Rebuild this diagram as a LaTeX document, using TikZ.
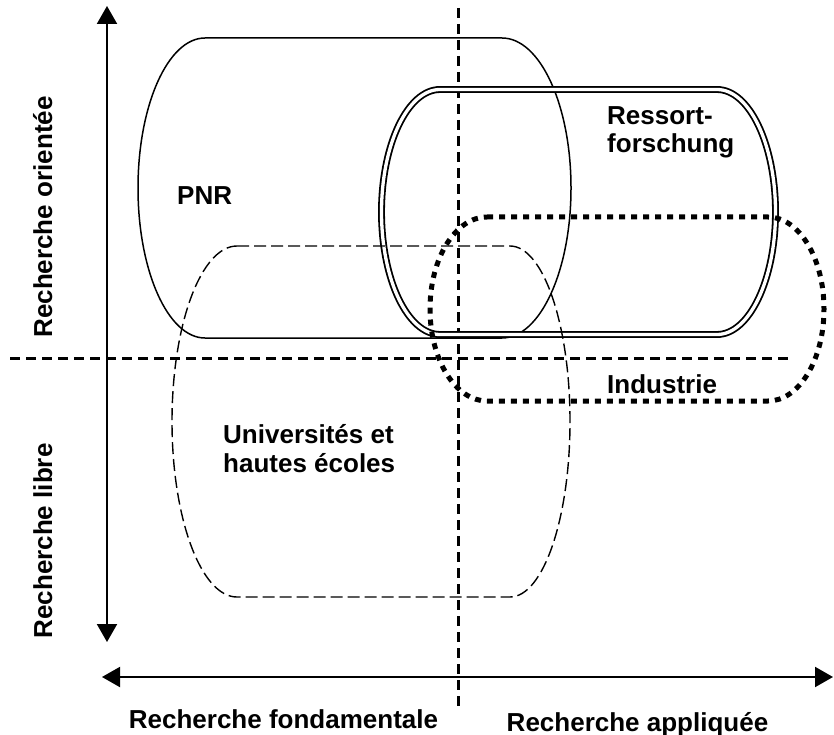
\documentclass[tikz,border=0pt]{standalone}
\usepackage{fontspec}
\setmainfont{Liberation Sans}
\usetikzlibrary{arrows.meta}
\begin{document}
\begin{tikzpicture}[x=1pt,y=1pt,
  lbl/.style={inner sep=0pt,font=\fontsize{26}{29}\selectfont\bfseries},
  axisarrow/.style={line width=2pt,{Triangle[length=18pt,width=20pt]}-{Triangle[length=18pt,width=20pt]}},
  axisdash/.style={line width=3pt,dash pattern=on 10pt off 6pt},
  pnrline/.style={line width=1.5pt},
  resline/.style={line width=1.8pt,double,double distance=3.3pt},
  unidash/.style={line width=1.4pt,dash pattern=on 12pt off 5pt},
  inddot/.style={line width=5pt,dash pattern=on 6pt off 6pt}]
\useasboundingbox (0,0) rectangle (834,-735);
% axes
\coordinate (vtop) at (107,-6);
\coordinate (vbot) at (107,-642);
\coordinate (hleft) at (102,-677);
\coordinate (hright) at (833,-677);
\draw[axisarrow] (vtop) -- (vbot);
\draw[axisarrow] (hleft) -- (hright);
\coordinate (dhl) at (10,-358);
\coordinate (dhr) at (790,-358);
\coordinate (dvt) at (458,-8);
\coordinate (dvb) at (458,-710);
\draw[axisdash] (dhl) -- (dhr);
\draw[axisdash] (dvt) -- (dvb);
% PNR
\draw[pnrline] (205,-38) -- (502,-38)
  arc[start angle=90,end angle=-90,x radius=69,y radius=150] -- (205,-338)
  arc[start angle=270,end angle=90,x radius=67,y radius=150] -- cycle;
% Ressortforschung
\draw[resline] (440,-89.5) -- (717,-89.5)
  arc[start angle=90,end angle=-90,x radius=58.5,y radius=122.5] -- (440,-334.5)
  arc[start angle=270,end angle=90,x radius=58.5,y radius=122.5] -- cycle;
% Universites
\draw[unidash] (237,-246) -- (510,-246)
  arc[start angle=90,end angle=-90,x radius=60,y radius=175.5] -- (237,-597)
  arc[start angle=270,end angle=90,x radius=65,y radius=175.5] -- cycle;
% Industrie
\draw[inddot] (487,-217) -- (768,-217)
  arc[start angle=90,end angle=-90,x radius=56,y radius=92] -- (487,-401)
  arc[start angle=270,end angle=90,x radius=57,y radius=92] -- cycle;
% labels
\node[lbl,anchor=base west] (pnr) at (177,-205) {PNR};
\node[lbl,anchor=base west] (uni1) at (223,-443) {Universités et};
\node[lbl,anchor=base west] (uni2) at (223,-472) {hautes écoles};
\node[lbl,anchor=base west] (res1) at (607,-125) {Ressort-};
\node[lbl,anchor=base west] (res2) at (607,-153) {forschung};
\node[lbl,anchor=base west] (ind) at (607,-393) {Industrie};
\node[lbl,anchor=base] (fond) at (283.5,-728) {Recherche fondamentale};
\node[lbl,anchor=base] (appl) at (637.5,-731) {Recherche appliquée};
\node[lbl,anchor=base,rotate=90] (orient) at (52,-217) {Recherche orientée};
\node[lbl,anchor=base,rotate=90] (libre) at (52,-541) {Recherche libre};
\end{tikzpicture}
\end{document}
